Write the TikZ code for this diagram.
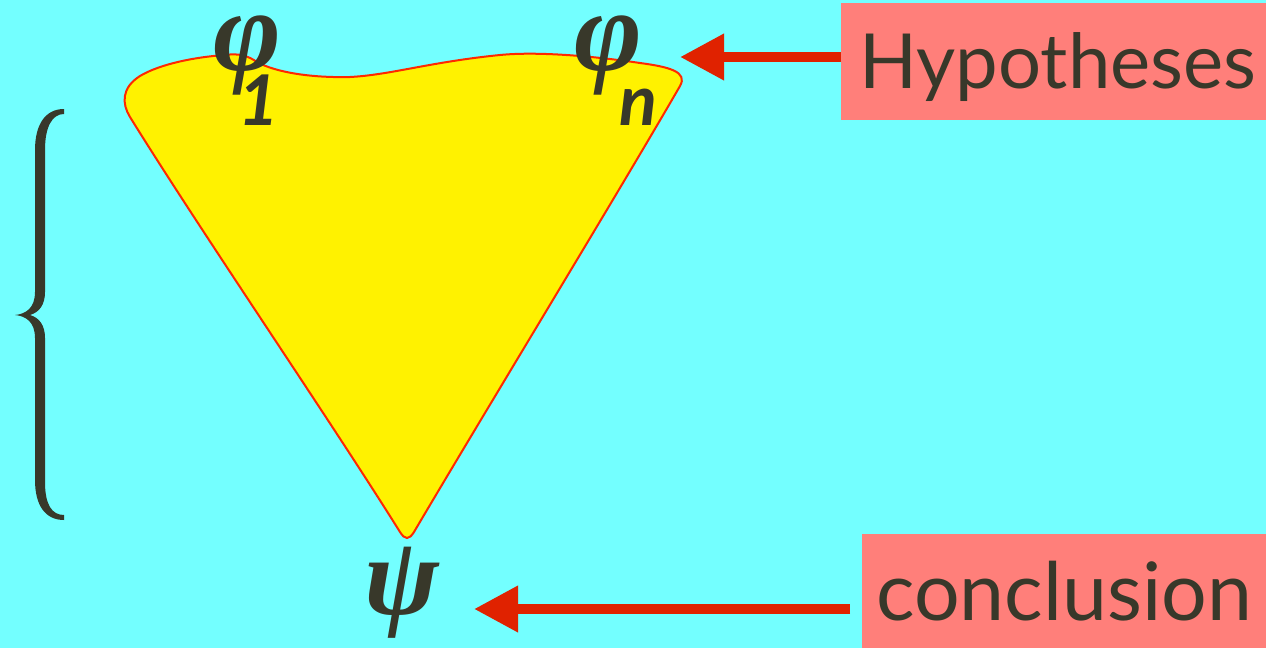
\documentclass[tikz,border=0pt]{standalone}
\usepackage{fontspec}
\setmainfont{Lato}
\newfontfamily\grk{Liberation Serif}
\usetikzlibrary{arrows.meta}
\definecolor{bgc}{RGB}{115,255,255}
\definecolor{inkc}{RGB}{56,56,42}
\definecolor{boxc}{RGB}{255,127,122}
\definecolor{arrc}{RGB}{224,34,0}
\definecolor{outlc}{RGB}{255,40,0}
\tikzset{
  glyph/.style={inner sep=0pt, text=inkc, anchor=base, text depth=0.22em},
  labeltext/.style={inner sep=0pt, text=inkc, anchor=base west},
  subtext/.style={inner sep=0pt, text=inkc, anchor=base, font=\fontsize{35}{35}\selectfont\bfseries\itshape},
  bigarrow/.style={draw=arrc, line width=5pt, -{Triangle[length=22pt,width=22pt]}},
}
\begin{document}
\begin{tikzpicture}[x=0.5pt,y=-0.5pt]
\fill[bgc] (0,0) rectangle (1266,648);
\useasboundingbox (0,0) rectangle (1266,648);
% yellow region
\filldraw[fill=yellow, draw=outlc, line width=1pt]
 (130,117) .. controls (122,104) and (121,88) .. (140,76)
 .. controls (160,64) and (195,57) .. (225,55)
 .. controls (240,53) and (248,56) .. (257,62)
 .. controls (275,72) and (310,78) .. (350,77)
 .. controls (390,75) and (430,62) .. (500,55)
 .. controls (540,51) and (600,57) .. (640,63)
 .. controls (670,67) and (688,72) .. (680,86)
 .. controls (620,190) and (480,420) .. (414,532)
 .. controls (409,540) and (405,540) .. (400,532)
 .. controls (330,420) and (200,230) .. (130,117) -- cycle;
% brace
\fill[inkc]
 (64,109) .. controls (45,109) and (35,125) .. (35,150)
 -- (35,292) .. controls (35,308) and (26,314) .. (15,315)
 .. controls (26,316) and (35,322) .. (35,338)
 -- (35,480) .. controls (35,505) and (45,520) .. (64,520)
 -- (64,515) .. controls (52,515) and (45,505) .. (45,482)
 -- (45,338) .. controls (45,326) and (40,318) .. (30,315)
 .. controls (40,312) and (45,304) .. (45,292)
 -- (45,150) .. controls (45,127) and (52,114) .. (64,114) -- cycle;
% boxes
\fill[boxc] (841,3) rectangle (1266,120);
\fill[boxc] (862,534) rectangle (1266,648);
% texts
\node[labeltext, font=\fontsize{38}{38}\selectfont] (hyp) at (859,89) {Hypotheses};
\node[labeltext, font=\fontsize{40.3}{40.3}\selectfont] (concl) at (876,620) {conclusion};
\node[glyph, text height=0.48em, font=\grk\fontsize{58}{58}\selectfont\bfseries\itshape] (phi1) at (247,70) {φ};
\node[glyph, text height=0.48em, font=\grk\fontsize{58}{58}\selectfont\bfseries\itshape] (phin) at (608,70) {φ};
\node[subtext] (sub1) at (259,126) {1};
\node[subtext] (subn) at (638,125) {n};
\node[glyph, text height=0.7em, font=\grk\fontsize{56}{56}\selectfont\bfseries\itshape] (psi) at (402,614) {ψ};
% arrows
\coordinate (hypL) at (841,57);
\coordinate (hypTip) at (680,57);
\coordinate (conL) at (850,609);
\coordinate (conTip) at (474,609);
\draw[bigarrow] (hypL) -- (hypTip);
\draw[bigarrow] (conL) -- (conTip);
\end{tikzpicture}
\end{document}
